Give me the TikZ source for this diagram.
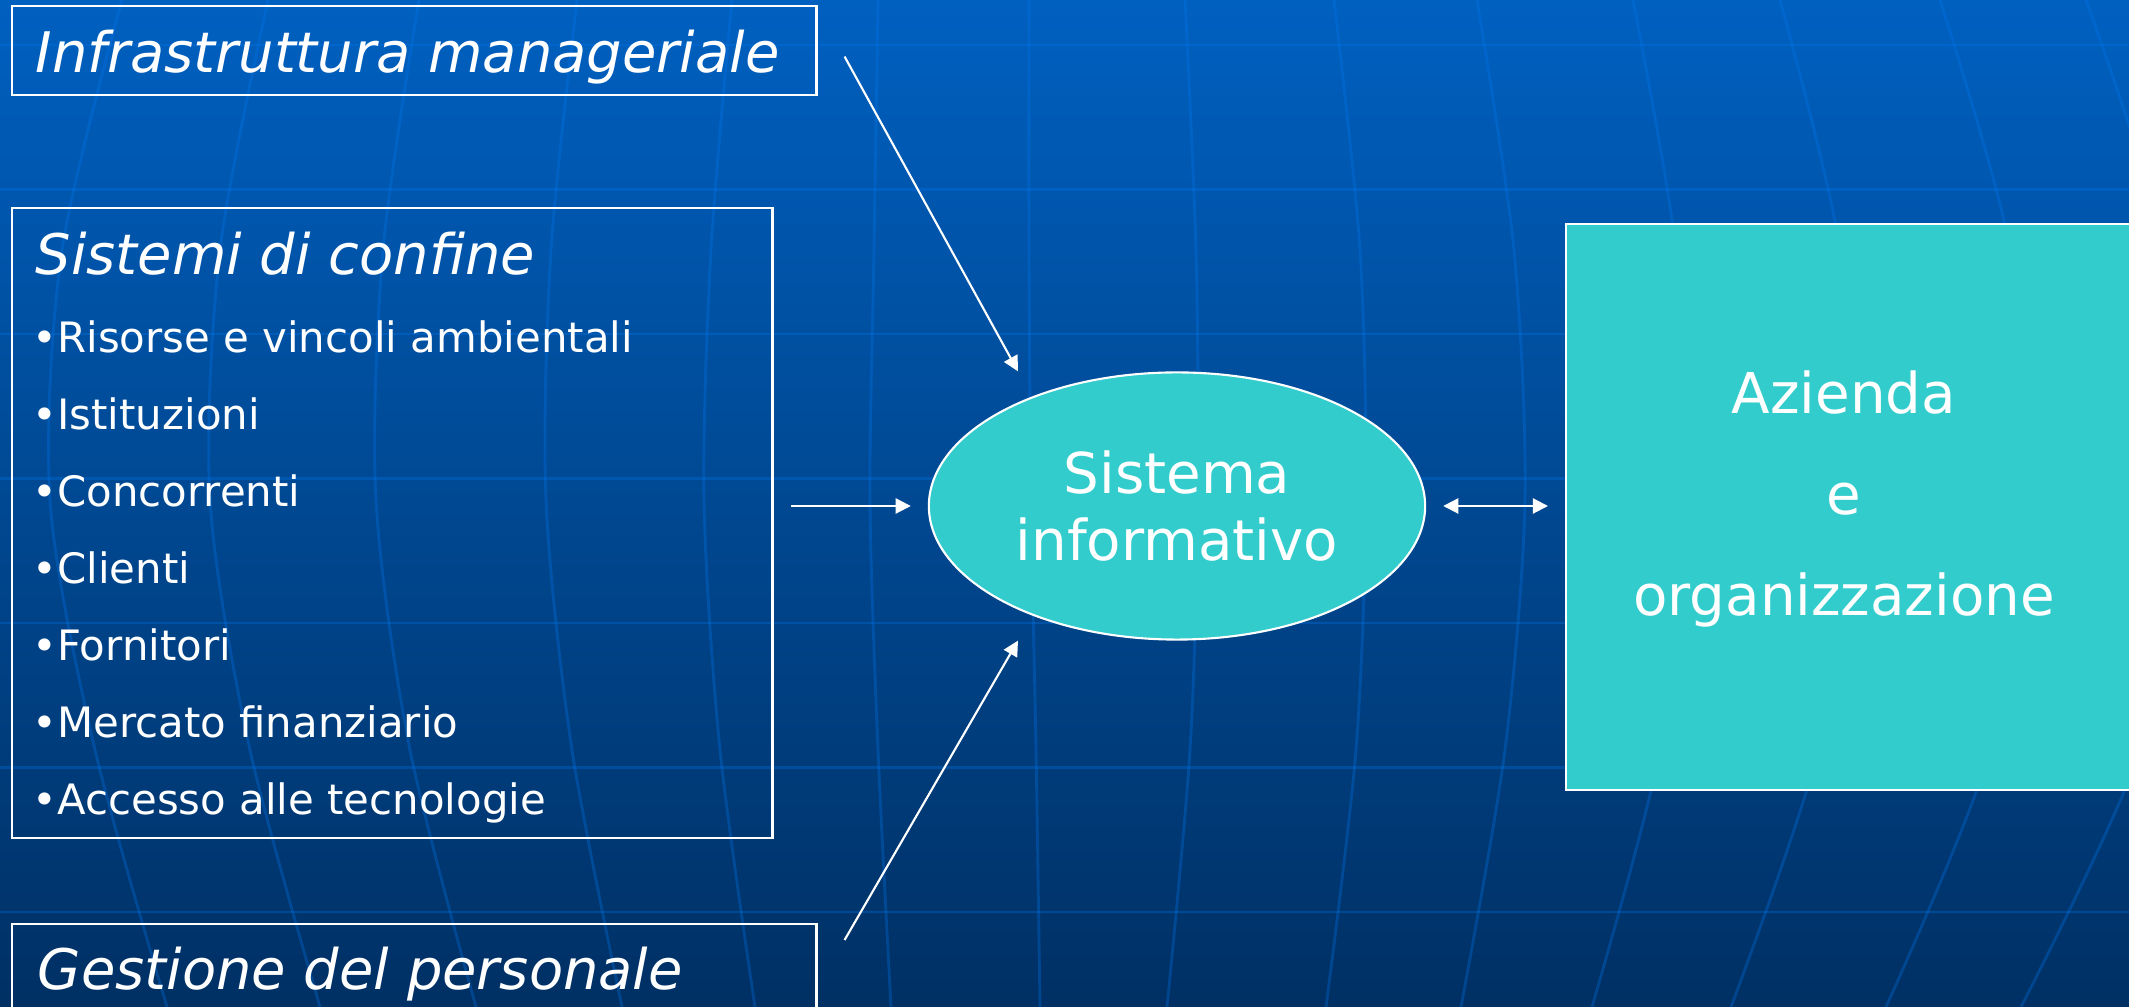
\documentclass[tikz,border=0pt]{standalone}
\usepackage{fontspec}
\setmainfont{DejaVu Sans}
\usetikzlibrary{shapes.geometric,arrows.meta,calc}
\definecolor{bgtop}{RGB}{0,96,192}
\definecolor{bgbottom}{RGB}{0,48,100}
\definecolor{gridblue}{RGB}{0,120,240}
\definecolor{tealfill}{RGB}{51,204,204}

\begin{document}
\begin{tikzpicture}[x=0.01cm,y=-0.01cm,
        gridline/.style={gridblue,opacity=0.3,line width=0.8pt},
        framebox/.style={draw=white,line width=0.6pt,inner sep=0pt,anchor=north west},
        linkarrow/.style={white,line width=0.6pt,-{Triangle[length=4.3pt,width=4.3pt]}},
        headtext/.style={text=white,font=\fontsize{15.9}{18}\selectfont\itshape,anchor=base west,inner sep=0pt},
        itemtext/.style={text=white,font=\fontsize{11.9}{14}\selectfont,anchor=base west,inner sep=0pt},
        bigtext/.style={text=white,font=\fontsize{16}{19}\selectfont}]
        \useasboundingbox (0,0) rectangle (2129,1007);
        \clip (0,0) rectangle (2129,1007);
        \shade[top color=bgtop,bottom color=bgbottom] (0,0) rectangle (2129,1007);
        % sfondo a reticolo
        \foreach \y in {45,189.5,...,1000}
            \draw[gridline] (0,\y) -- (2129,\y);
        \foreach \a/\b/\c/\d/\e in {122/62/50/95/167, 268/220/210/250/320, 419/383/376/410/476,
                577/551/546/572/622, 732/711/704/720/755, 878/874/870/878/891, 1029/1029/1031/1036/1040,
                1185/1196/1198/1190/1167, 1334/1360/1366/1356/1326, 1477/1514/1525/1505/1461,
                1633/1676/1688/1660/1592, 1780/1840/1852/1818/1731, 1940/2010/2025/1990/1886,
                2086/2165/2185/2140/2021}
            \draw[gridline] plot[smooth] coordinates {(\a,0) (\b,250) (\c,500) (\d,750) (\e,1007)};
        % riquadri a sinistra
        \node[framebox,minimum width=8.04cm,minimum height=0.89cm] (infra) at (11,5) {};
        \node[headtext] (infratxt) at (35,73) {Infrastruttura manageriale};
        \node[framebox,minimum width=7.6cm,minimum height=6.3cm] (confine) at (11,207) {};
        \node[headtext] (confinetxt) at (35,275) {Sistemi di confine};
        \foreach \t [count=\i] in {Risorse e vincoli ambientali, Istituzioni, Concorrenti, Clienti,
                Fornitori, Mercato finanziario, Accesso alle tecnologie}
            \node[itemtext] (item\i) at (32,{276+77*\i}) {•\t};
        \node[framebox,minimum width=8.04cm,minimum height=2cm] (gestione) at (11,923) {};
        \node[headtext] (gestionetxt) at (37,990) {Gestione del personale};
        % sistema informativo e azienda
        \node[ellipse,draw=white,line width=0.6pt,fill=tealfill,minimum width=4.96cm,minimum height=2.67cm,
            inner sep=0pt,align=center,bigtext] (sys) at (1177,506) {Sistema\\informativo};
        \node[framebox,fill=tealfill,minimum width=6cm,minimum height=5.66cm] (azienda) at (1565,223) {};
        \foreach \t/\y in {Azienda/414,e/515,organizzazione/616}
            \node[bigtext,anchor=base,inner sep=0pt] (az\y) at (1844,\y) {\t};
        % frecce
        \draw[linkarrow] ($(infra.east)+(27,6)$) -- ($(sys.north)+(-159,0)$);
        \draw[linkarrow,shorten <=0.17cm,shorten >=0.17cm] (confine.east |- sys.west) -- (sys.west);
        \draw[linkarrow,{Triangle[length=4.3pt,width=4.3pt]}-{Triangle[length=4.3pt,width=4.3pt]},
            shorten <=0.17cm,shorten >=0.17cm] (sys.east) -- (azienda.west |- sys.east);
        \draw[linkarrow] ($(gestione.north east)+(27,17)$) -- ($(sys.south)+(-159,0)$);
    \end{tikzpicture}
\end{document}
